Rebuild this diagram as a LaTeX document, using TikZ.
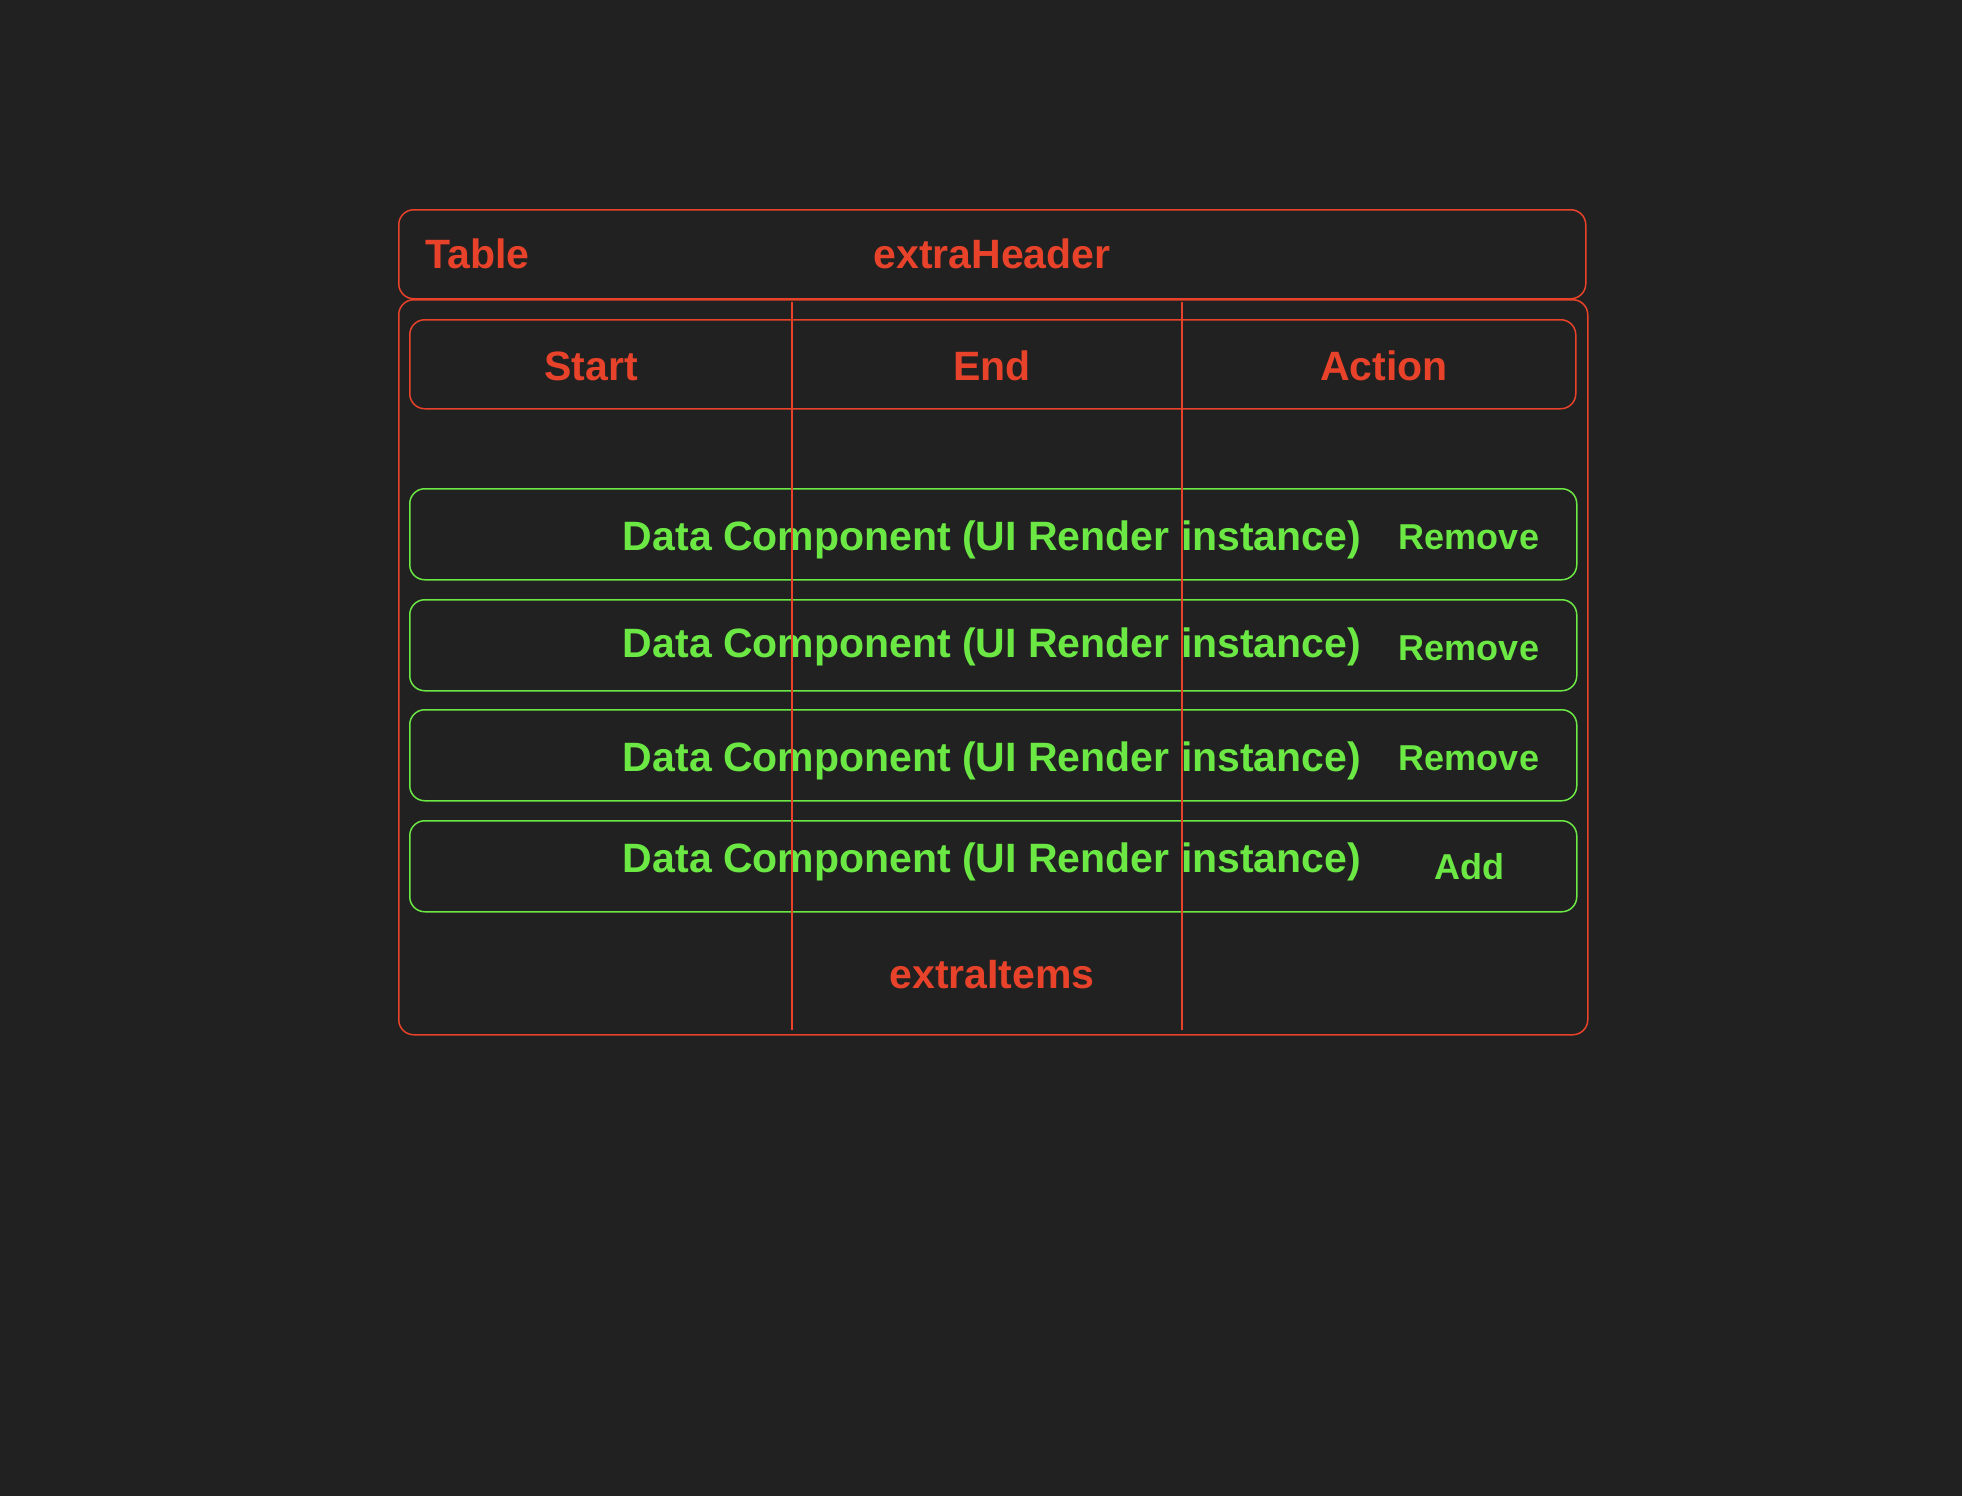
\documentclass[tikz,border=0pt]{standalone}
\usepackage{fontspec}
\setmainfont{Liberation Sans}
\definecolor{bg}{HTML}{212121}
\definecolor{tblred}{HTML}{E8432A}
\definecolor{rowgreen}{HTML}{6CE844}
\tikzset{
  redbox/.style={draw=tblred, line width=1.5pt, rounded corners=15pt, inner sep=0pt, anchor=north west},
  greenbox/.style={draw=rowgreen, line width=1.5pt, rounded corners=15pt, inner sep=0pt, anchor=north west,
    minimum width=1167pt, minimum height=91pt},
  redlabel/.style={text=tblred, inner sep=0pt, anchor=base, font=\fontsize{41}{48}\selectfont\bfseries},
  greenlabel/.style={text=rowgreen, inner sep=0pt, anchor=base, font=\fontsize{41}{48}\selectfont\bfseries},
  actionlabel/.style={text=rowgreen, inner sep=0pt, anchor=base, font=\fontsize{36}{42}\selectfont\bfseries}
}
\begin{document}
\begin{tikzpicture}[x=1pt,y=-1pt]
\useasboundingbox[fill=bg] (0,0) rectangle (1962,1496);

% table header and body
\node[redbox, minimum width=1187pt, minimum height=89pt] (header) at (398,209) {};
\node[redbox, minimum width=1189pt, minimum height=735pt] (body) at (398,299) {};
\node[redbox, minimum width=1166pt, minimum height=89pt] (colrow) at (409,319) {};

\node[redlabel, anchor=base west] (title) at (425,268) {Table};
\node[redlabel] (extraheader) at (992,268) {extraHeader};
\node[redlabel] (start) at (591,380) {Start};
\node[redlabel] (end) at (992,380) {End};
\node[redlabel] (action) at (1384,380) {Action};

% data rows
\foreach \y/\t/\a/\act [count=\i] in {488/550/549/Remove, 599/657/660/Remove, 709/771/770/Remove, 820/872/879/Add}{
  \node[greenbox] (row\i) at (409,\y) {};
  \node[greenlabel] (data\i) at (992,\t) {Data Component (UI Render instance)};
  \node[actionlabel] (act\i) at (1469,\a) {\act};
}

\node[redlabel] (extraitems) at (992,988) {extraItems};

% column lines
\coordinate (c1top) at (792,302);
\coordinate (c1bot) at (792,1030);
\coordinate (c2top) at (1182,302);
\coordinate (c2bot) at (1182,1030);
\draw[tblred, line width=1.5pt] (c1top) -- (c1bot);
\draw[tblred, line width=1.5pt] (c2top) -- (c2bot);
\end{tikzpicture}
\end{document}
